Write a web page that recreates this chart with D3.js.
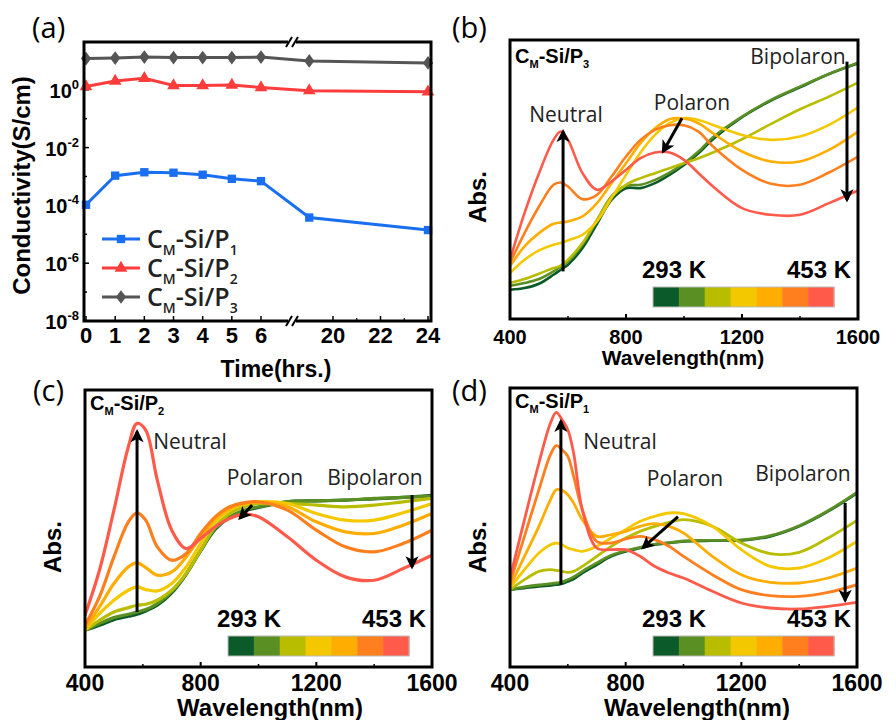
<!DOCTYPE html>
<html>
<head>
<meta charset="utf-8">
<script src="https://cdn.jsdelivr.net/npm/d3@7"></script>
<style>
  body { margin: 0; background: #fff; }
  svg { display: block; }
</style>
</head>
<body>
<script>
// ---------- (a) conductivity vs time ----------
const hours = [0, 1, 2, 3, 4, 5, 6, 19, 24];
const condP1 = [1.05e-4, 1.07e-3, 1.4e-3, 1.35e-3, 1.15e-3, 8.3e-4, 6.9e-4, 3.8e-5, 1.4e-5];
const condP2 = [1.3, 2.0, 2.5, 1.4, 1.4, 1.45, 1.2, 0.93, 0.85];
const condP3 = [12, 12.5, 13.5, 13, 13, 13, 13.5, 10, 8.5];
const seriesSubs = ["1", "2", "3"];
const seriesColors = ["#1a6ff0", "#ff3c3c", "#555555"];
const xTicksLeft = [0, 1, 2, 3, 4, 5, 6];
const xTicksRight = [20, 22, 24];
const yTickExps = [0, -2, -4, -6, -8];

// ---------- (b)-(d) absorption spectra, 293 K -> 453 K ----------
const tempColors = ["#0b5a29", "#5a8f23", "#b8bd00", "#f4c800", "#ffad00", "#ff7f1f", "#ff5a4a"];
const tempLabels = ["293 K", "453 K"];
const wlTicks = [400, 800, 1200, 1600];
const wlMinor = [600, 1000, 1400];

// P3 (panel b)
const wlB = [400, 450, 500, 550, 575, 600, 650, 700, 750, 800, 850, 900, 950, 1000, 1050, 1100, 1200, 1300, 1400, 1500, 1600];
const absB = [
  [88, 93, 106, 133, 148, 163, 213, 286, 358, 393, 393, 408, 433, 463, 498, 540, 606, 656, 696, 736, 768],
  [100, 108, 120, 143, 158, 173, 223, 296, 368, 400, 403, 418, 440, 468, 503, 546, 608, 658, 698, 736, 770],
  [108, 120, 136, 153, 160, 178, 228, 298, 366, 403, 423, 438, 453, 468, 483, 500, 540, 586, 630, 668, 710],
  [138, 178, 206, 223, 228, 236, 253, 293, 363, 433, 500, 553, 588, 603, 598, 583, 553, 538, 548, 583, 636],
  [158, 218, 258, 286, 290, 293, 308, 348, 408, 468, 528, 573, 600, 602, 588, 558, 503, 473, 473, 508, 563],
  [168, 258, 338, 403, 410, 398, 360, 373, 428, 488, 538, 568, 582, 582, 563, 518, 448, 406, 403, 440, 488],
  [178, 318, 438, 538, 563, 538, 438, 388, 413, 448, 483, 500, 500, 478, 438, 398, 333, 313, 313, 348, 386]
];

// P2 (panel c)
const wlC = [400, 450, 500, 550, 580, 610, 650, 700, 750, 800, 850, 900, 950, 1000, 1100, 1200, 1300, 1400, 1500, 1600];
const absC = [
  [110, 125, 142, 152, 158, 168, 185, 222, 278, 348, 412, 448, 468, 478, 495, 498, 500, 504, 508, 514],
  [110, 130, 148, 158, 165, 172, 190, 225, 280, 350, 415, 450, 470, 480, 495, 498, 500, 505, 508, 512],
  [110, 140, 165, 178, 185, 188, 200, 230, 280, 350, 420, 460, 480, 490, 490, 485, 480, 485, 495, 505],
  [110, 160, 200, 230, 240, 232, 228, 250, 300, 370, 435, 470, 488, 495, 490, 460, 440, 440, 462, 490],
  [115, 180, 250, 300, 312, 298, 275, 285, 330, 390, 445, 475, 490, 493, 480, 435, 405, 400, 425, 460],
  [125, 210, 330, 435, 462, 440, 360, 320, 340, 400, 450, 480, 492, 495, 470, 410, 360, 345, 370, 410],
  [155, 290, 470, 660, 730, 710, 560, 410, 355, 385, 420, 445, 458, 450, 390, 320, 270, 260, 295, 335]
];

// P1 (panel d)
const wlD = [400, 450, 500, 540, 560, 580, 600, 620, 650, 700, 750, 800, 850, 900, 950, 1000, 1100, 1200, 1300, 1400, 1500, 1600];
const absD = [
  [232, 237, 242, 245, 247, 250, 257, 264, 282, 307, 332, 347, 357, 367, 372, 377, 379, 380, 392, 422, 467, 522],
  [232, 240, 246, 250, 252, 255, 262, 270, 287, 312, 335, 349, 359, 368, 373, 378, 380, 381, 394, 424, 469, 524],
  [232, 262, 287, 292, 290, 287, 284, 287, 302, 332, 362, 387, 407, 422, 434, 442, 422, 372, 340, 344, 387, 440],
  [237, 292, 342, 367, 372, 367, 357, 352, 347, 362, 387, 412, 437, 452, 462, 460, 422, 352, 302, 297, 327, 377],
  [242, 332, 422, 502, 532, 530, 517, 492, 442, 392, 397, 407, 422, 430, 422, 402, 332, 277, 254, 252, 267, 297],
  [252, 392, 532, 637, 664, 652, 632, 572, 472, 377, 372, 384, 392, 382, 362, 332, 277, 232, 214, 212, 224, 247],
  [267, 442, 612, 732, 764, 742, 712, 642, 472, 357, 352, 352, 332, 302, 282, 267, 227, 192, 177, 174, 182, 194]
];

const BOLD = "'Liberation Sans', Arial, sans-serif";
const REG = "'Open Sans', 'Noto Sans', sans-serif";
const W = 896, H = 720;

const svg = d3.select("body").append("svg")
  .attr("width", W).attr("height", H)
  .attr("viewBox", [0, 0, W, H]);

const defs = svg.append("defs");
defs.append("marker")
  .attr("id", "head")
  .attr("viewBox", "0 0 10 10")
  .attr("refX", 8).attr("refY", 5)
  .attr("markerWidth", 5).attr("markerHeight", 4.4)
  .attr("markerUnits", "strokeWidth")
  .attr("orient", "auto")
  .append("path").attr("d", "M0,0 L10,5 L0,10 L2.5,5 Z").attr("fill", "#000");

// ================= panel (a) =================
{
  const left = 84, right = 431, top = 42, bottom = 321, brk = 292;
  const xL = d3.scaleLinear().domain([0, 6]).range([86, 261]);
  const xR = d3.scaleLinear().domain([20, 24]).range([333, 428]);
  const x = (d) => (d <= 6 ? xL(d) : xR(d));
  const y = d3.scaleLog().domain([1e-8, 45]).range([bottom, top]);

  const g = svg.append("g");

  // ticks (inward)
  const ticksX = xTicksLeft.concat(xTicksRight);
  g.selectAll(".xt").data(ticksX).join("line")
    .attr("x1", x).attr("x2", x)
    .attr("y1", bottom).attr("y2", bottom - 5)
    .attr("stroke", "#000").attr("stroke-width", 1.5);
  g.selectAll(".xm").data([21, 23]).join("line")
    .attr("x1", x).attr("x2", x)
    .attr("y1", bottom).attr("y2", bottom - 3)
    .attr("stroke", "#000").attr("stroke-width", 1.2);
  const decades = d3.range(-8, 2);
  g.selectAll(".yt").data(decades).join("line")
    .attr("x1", left).attr("x2", (d) => left + (d % 2 === 0 ? 5 : 3))
    .attr("y1", (d) => y(Math.pow(10, d))).attr("y2", (d) => y(Math.pow(10, d)))
    .attr("stroke", "#000").attr("stroke-width", 1.5);

  // series
  const series = [condP1, condP2, condP3];
  const symbols = [d3.symbolSquare, d3.symbolTriangle, d3.symbolDiamond];
  const symSize = [70, 70, 75];
  const line = d3.line().x((d) => x(d[0])).y((d) => y(d[1]));
  series.forEach((vals, i) => {
    const pts = hours.map((h, j) => [h, vals[j]]);
    g.append("path").attr("d", line(pts))
      .attr("fill", "none").attr("stroke", seriesColors[i]).attr("stroke-width", 3);
    g.selectAll(null).data(pts).join("path")
      .attr("transform", (d) => `translate(${x(d[0])},${y(d[1])})${i === 2 ? " scale(1.1,0.85)" : ""}`)
      .attr("d", d3.symbol(symbols[i], symSize[i]))
      .attr("fill", seriesColors[i]);
  });

  // frame
  g.append("rect").attr("x", left).attr("y", top)
    .attr("width", right - left).attr("height", bottom - top)
    .attr("fill", "none").attr("stroke", "#000").attr("stroke-width", 3);

  // axis break marks
  [top, bottom].forEach((yy) => {
    g.append("rect").attr("x", brk - 4).attr("y", yy - 3).attr("width", 8).attr("height", 6).attr("fill", "#fff");
    [-3, 3].forEach((dx) => {
      g.append("line")
        .attr("x1", brk + dx - 3).attr("y1", yy + 5)
        .attr("x2", brk + dx + 3).attr("y2", yy - 5)
        .attr("stroke", "#000").attr("stroke-width", 2);
    });
  });

  // tick labels
  g.selectAll(".xl").data(ticksX).join("text")
    .attr("x", x).attr("y", 343)
    .attr("text-anchor", "middle")
    .attr("font-family", BOLD).attr("font-weight", "bold").attr("font-size", 22)
    .text((d) => d);

  const yl = g.selectAll(".yl").data(yTickExps).join("text")
    .attr("x", 79).attr("y", (d) => y(Math.pow(10, d)) + 8)
    .attr("text-anchor", "end")
    .attr("font-family", BOLD).attr("font-weight", "bold").attr("font-size", 20);
  yl.append("tspan").text("10");
  yl.append("tspan").attr("dy", -9).attr("font-size", 13).text((d) => d);

  g.append("text")
    .attr("transform", `translate(30,${(top + bottom) / 2 + 4}) rotate(-90)`)
    .attr("text-anchor", "middle")
    .attr("font-family", BOLD).attr("font-weight", "bold").attr("font-size", 24)
    .text("Conductivity(S/cm)");

  g.append("text").attr("x", 276).attr("y", 377)
    .attr("text-anchor", "middle")
    .attr("font-family", BOLD).attr("font-weight", "bold").attr("font-size", 23)
    .text("Time(hrs.)");

  // legend
  seriesSubs.forEach((s, i) => {
    const ly = 239 + i * 29;
    g.append("line").attr("x1", 102).attr("x2", 140).attr("y1", ly).attr("y2", ly)
      .attr("stroke", seriesColors[i]).attr("stroke-width", 3);
    g.append("path")
      .attr("transform", `translate(121,${ly})${i === 2 ? " scale(1.1,0.85)" : ""}`)
      .attr("d", d3.symbol(symbols[i], symSize[i]))
      .attr("fill", seriesColors[i]);
    const t = g.append("text").attr("x", 147).attr("y", ly + 9)
      .attr("font-family", REG).attr("font-weight", 600).attr("font-size", 25).attr("fill", "#222");
    t.append("tspan").text("C");
    t.append("tspan").attr("dy", 7).attr("font-size", 14).text("M");
    t.append("tspan").attr("dy", -7).text("-Si/P");
    t.append("tspan").attr("dy", 7).attr("font-size", 14).text(s);
  });

  g.append("text").attr("x", 32).attr("y", 38)
    .attr("font-family", REG).attr("font-size", 29).text("(a)");
}

// ================= spectra panels =================
function spectra(cfg) {
  const { left, right, top, bottom, wl, abs, ymax } = cfg;
  const x = d3.scaleLinear().domain([400, 1600]).range([left, right]);
  const y = d3.scaleLinear().domain([0, ymax]).range([bottom, top]);
  const g = svg.append("g");

  const clipId = "clip-" + cfg.id;
  defs.append("clipPath").attr("id", clipId)
    .append("rect").attr("x", left).attr("y", top)
    .attr("width", right - left).attr("height", bottom - top);

  const line = d3.line()
    .x((d) => x(d[0])).y((d) => y(d[1]))
    .curve(d3.curveCatmullRom.alpha(0.5));

  g.append("g").attr("clip-path", `url(#${clipId})`)
    .selectAll("path").data(abs).join("path")
    .attr("d", (row) => line(wl.map((w, j) => [w, row[j]])))
    .attr("fill", "none")
    .attr("stroke", (d, i) => tempColors[i])
    .attr("stroke-width", cfg.lw)
    .attr("stroke-linejoin", "round");

  // ticks
  g.selectAll(".tk").data([800, 1200]).join("line")
    .attr("x1", x).attr("x2", x).attr("y1", bottom).attr("y2", bottom - 5)
    .attr("stroke", "#000").attr("stroke-width", 2);
  g.selectAll(".tm").data(wlMinor).join("line")
    .attr("x1", x).attr("x2", x).attr("y1", bottom).attr("y2", bottom - 3)
    .attr("stroke", "#000").attr("stroke-width", 1.5);

  // frame
  g.append("rect").attr("x", left).attr("y", top)
    .attr("width", right - left).attr("height", bottom - top)
    .attr("fill", "none").attr("stroke", "#000").attr("stroke-width", 3);

  // tick labels + axis titles
  g.selectAll(".tl").data(wlTicks).join("text")
    .attr("x", x).attr("y", cfg.tickY)
    .attr("text-anchor", "middle")
    .attr("font-family", BOLD).attr("font-weight", "bold").attr("font-size", cfg.tickFs)
    .text((d) => d);
  g.append("text").attr("x", cfg.xTitleX).attr("y", cfg.xTitleY)
    .attr("text-anchor", "middle")
    .attr("font-family", BOLD).attr("font-weight", "bold").attr("font-size", cfg.xTitleFs)
    .text("Wavelength(nm)");
  g.append("text")
    .attr("transform", `translate(${cfg.absX},${cfg.absY}) rotate(-90)`)
    .attr("text-anchor", "middle")
    .attr("font-family", BOLD).attr("font-weight", "bold").attr("font-size", 24)
    .text("Abs.");

  // panel letter
  g.append("text").attr("x", cfg.letterX).attr("y", cfg.letterY)
    .attr("font-family", REG).attr("font-size", 29).text(cfg.letter);

  // sample name
  const nm = g.append("text").attr("x", left + 5).attr("y", cfg.nameY)
    .attr("font-family", BOLD).attr("font-weight", "bold").attr("font-size", 20);
  nm.append("tspan").text("C");
  nm.append("tspan").attr("dy", 5).attr("font-size", 11).text("M");
  nm.append("tspan").attr("dy", -5).text("-Si/P");
  nm.append("tspan").attr("dy", 5).attr("font-size", 11).text(cfg.sub);

  // colour bar
  const cb = d3.scaleBand().domain(d3.range(tempColors.length)).range([cfg.cbX0, cfg.cbX1]);
  g.selectAll(".cb").data(tempColors).join("rect")
    .attr("x", (d, i) => cb(i)).attr("y", cfg.cbY)
    .attr("width", cb.bandwidth() + 0.5).attr("height", 20)
    .attr("fill", (d) => d);
  g.append("rect").attr("x", cfg.cbX0).attr("y", cfg.cbY)
    .attr("width", cfg.cbX1 - cfg.cbX0).attr("height", 20)
    .attr("fill", "none").attr("stroke", "#bbb").attr("stroke-width", 1);
  g.append("text").attr("x", cfg.cbX0 - 11).attr("y", cfg.cbY - 9)
    .attr("font-family", BOLD).attr("font-weight", "bold").attr("font-size", 24)
    .text(tempLabels[0]);
  g.append("text").attr("x", cfg.cbX1 + 17).attr("y", cfg.cbY - 9)
    .attr("text-anchor", "end")
    .attr("font-family", BOLD).attr("font-weight", "bold").attr("font-size", 24)
    .text(tempLabels[1]);

  // annotations
  cfg.labels.forEach((l) => {
    g.append("text").attr("x", l.x).attr("y", l.y)
      .attr("text-anchor", "middle")
      .attr("font-family", REG).attr("font-size", 21).attr("fill", "#222")
      .text(l.t);
  });
  cfg.arrows.forEach((a) => {
    g.append("line")
      .attr("x1", x(a[0])).attr("y1", y(a[1]))
      .attr("x2", x(a[2])).attr("y2", y(a[3]))
      .attr("stroke", "#000").attr("stroke-width", 3)
      .attr("marker-end", "url(#head)");
  });
}

spectra({
  id: "b", letter: "(b)", sub: "3",
  left: 510, right: 858, top: 40, bottom: 319, ymax: 838,
  wl: wlB, abs: absB, lw: 2.6,
  tickY: 344, tickFs: 20, xTitleX: 683, xTitleY: 365, xTitleFs: 21,
  absX: 486, absY: 197, letterX: 452, letterY: 38, nameY: 63,
  cbX0: 653, cbX1: 834, cbY: 287,
  labels: [
    { t: "Neutral", x: 566, y: 122 },
    { t: "Polaron", x: 692, y: 110 },
    { t: "Bipolaron", x: 798, y: 64 }
  ],
  arrows: [
    [583, 143, 583, 563],
    [993, 603, 928, 503],
    [1562, 773, 1562, 358]
  ]
});

spectra({
  id: "c", letter: "(c)", sub: "2",
  left: 85, right: 432, top: 390, bottom: 667, ymax: 830,
  wl: wlC, abs: absC, lw: 3.2,
  tickY: 691, tickFs: 23, xTitleX: 270, xTitleY: 716, xTitleFs: 24,
  absX: 61, absY: 547, letterX: 33, letterY: 401, nameY: 410,
  cbX0: 228, cbX1: 409, cbY: 636,
  labels: [
    { t: "Neutral", x: 190, y: 449 },
    { t: "Polaron", x: 265, y: 485 },
    { t: "Bipolaron", x: 375, y: 485 }
  ],
  arrows: [
    [580, 165, 580, 705],
    [978, 485, 936, 446],
    [1531, 515, 1531, 300]
  ]
});

spectra({
  id: "d", letter: "(d)", sub: "1",
  left: 510, right: 857, top: 388, bottom: 667, ymax: 837,
  wl: wlD, abs: absD, lw: 2.8,
  tickY: 691, tickFs: 23, xTitleX: 697, xTitleY: 716, xTitleFs: 24,
  absX: 486, absY: 547, letterX: 452, letterY: 401, nameY: 408,
  cbX0: 653, cbX1: 834, cbY: 636,
  labels: [
    { t: "Neutral", x: 620, y: 449 },
    { t: "Polaron", x: 685, y: 486 },
    { t: "Bipolaron", x: 803, y: 481 }
  ],
  arrows: [
    [576, 247, 576, 737],
    [981, 451, 860, 358],
    [1559, 492, 1559, 200]
  ]
});
</script>
</body>
</html>
